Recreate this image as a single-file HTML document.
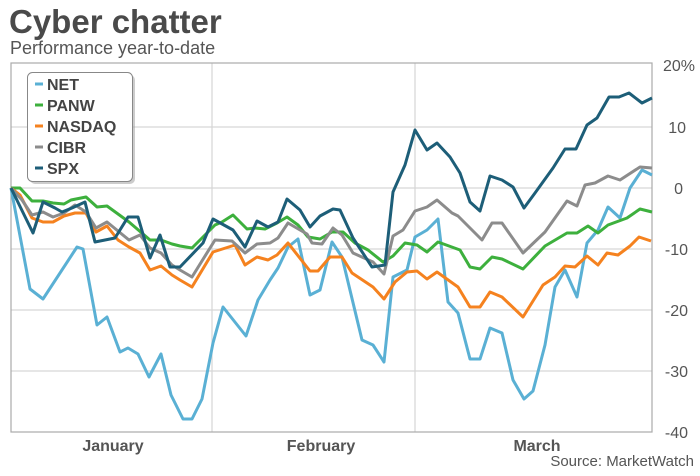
<!DOCTYPE html>
<html><head><style>
body{margin:0;width:700px;height:471px;background:#fff;overflow:hidden;font-family:"Liberation Sans",sans-serif;}
</style></head><body>
<svg width="700" height="471" viewBox="0 0 700 471" xmlns="http://www.w3.org/2000/svg" font-family="Liberation Sans, sans-serif">
<text x="9" y="33" font-size="33" font-weight="bold" fill="#4a4a4a">Cyber chatter</text>
<text x="10" y="54" font-size="18" fill="#555">Performance year-to-date</text>
<g stroke="#d6d6d6" stroke-width="1.2">
<line x1="11" y1="127" x2="652" y2="127"/><line x1="11" y1="188" x2="652" y2="188"/>
<line x1="11" y1="249" x2="652" y2="249"/><line x1="11" y1="310" x2="652" y2="310"/>
<line x1="11" y1="371" x2="652" y2="371"/>
<line x1="212" y1="63" x2="212" y2="432"/><line x1="415" y1="63" x2="415" y2="432"/>
</g>
<rect x="11" y="63" width="641" height="369" fill="none" stroke="#aaa" stroke-width="1.2"/>
<g font-size="16" fill="#555" text-anchor="end">
<text x="695" y="71">20%</text><text x="686" y="133">10</text><text x="683" y="194">0</text>
<text x="688" y="255">-10</text><text x="688" y="316">-20</text><text x="688" y="377">-30</text><text x="688" y="438">-40</text>
</g>
<g font-size="16" font-weight="bold" fill="#555" text-anchor="middle">
<text x="113" y="451">January</text><text x="321" y="451">February</text><text x="537" y="451">March</text>
</g>
<text x="694" y="466" font-size="15" fill="#555" text-anchor="end">Source: MarketWatch</text>
<g fill="none" stroke-width="3" stroke-linejoin="round">
<polyline stroke="#5ab0d4" points="11,188 30,289 43,299 77,247 83,249 97,325 107,317 120,352 128,348 138,354 149,377 161,354 171,395 183,419 192,419 202,399 213,343 223,307 246,336 258,300 270,280 278,268 288,247 298,239 310,295 320,290 332,242 342,257 362,340 373,345 384,362 393,277 407,270 415,237 427,230 438,219 448,302 458,313 470,359 480,359 490,328 502,333 513,380 524,399 533,391 545,345 555,287 565,270 577,297 587,243 598,230 608,207 620,218 630,188 642,170 652,175"/>
<polyline stroke="#3db03d" points="11,188 20,188 32,201 43,201 53,203 64,204 71,200 86,197 97,207 107,206 129,222 150,240 161,240 172,244 180,246 192,248 205,235 215,225 222,222 233,215 247,229 255,228 265,229 277,223 287,217 298,225 308,237 320,239 332,232 343,232 355,243 368,250 383,262 393,256 405,243 417,245 427,252 438,242 460,250 470,267 480,269 492,257 502,259 523,269 545,246 567,233 577,233 588,226 598,233 608,225 627,218 640,209 652,212"/>
<polyline stroke="#f5821f" points="11,188 20,195 32,218 43,222 53,222 64,216 75,213 86,213 96,232 107,226 118,240 129,247 140,253 150,270 161,266 172,275 180,280 192,287 213,252 235,245 245,265 257,257 268,260 277,255 288,243 310,271 318,271 330,257 342,257 352,273 373,287 384,299 395,282 407,272 417,271 427,279 437,272 458,287 470,307 480,307 490,292 502,297 523,317 543,285 555,277 565,266 575,267 587,256 598,265 607,253 618,255 630,246 639,237 651,241"/>
<polyline stroke="#8c8c8c" points="11,188 22,200 32,215 43,212 53,217 64,213 75,205 86,212 96,228 107,222 129,240 140,235 150,248 161,253 172,265 180,270 192,277 215,240 232,241 245,253 257,244 270,243 278,238 288,223 307,234 312,243 322,244 333,228 342,235 353,253 373,262 384,274 393,236 403,230 415,211 427,207 437,200 452,213 458,216 482,240 492,223 502,223 523,253 545,232 567,201 577,206 585,185 595,183 608,176 620,180 640,167 652,168"/>
<polyline stroke="#1d5e78" points="11,188 33,233 43,202 55,208 62,212 72,208 85,202 95,242 115,238 128,217 138,217 150,258 160,235 170,267 180,267 203,243 213,219 233,230 245,247 257,221 268,227 278,222 287,199 300,210 310,227 320,216 333,209 340,210 353,238 372,267 385,265 393,192 405,165 415,130 427,150 437,143 450,157 460,173 470,202 480,211 490,176 502,180 513,187 524,208 535,193 553,168 565,149 576,149 587,125 597,118 609,97 619,97 629,93 642,103 652,98"/>
</g>
<rect x="30" y="75" width="105" height="109" rx="5" fill="#999" opacity="0.5"/>
<rect x="27.5" y="72.5" width="105" height="109" rx="5" fill="#fff" stroke="#888" stroke-width="1"/>
<g stroke-width="3">
<line x1="35" y1="84" x2="43" y2="84" stroke="#5ab0d4"/>
<line x1="35" y1="105" x2="43" y2="105" stroke="#3db03d"/>
<line x1="35" y1="126" x2="43" y2="126" stroke="#f5821f"/>
<line x1="35" y1="147" x2="43" y2="147" stroke="#8c8c8c"/>
<line x1="35" y1="168" x2="43" y2="168" stroke="#1d5e78"/>
</g>
<g font-size="16" font-weight="bold" fill="#444">
<text x="47" y="90">NET</text><text x="47" y="111">PANW</text><text x="47" y="132">NASDAQ</text>
<text x="47" y="153">CIBR</text><text x="47" y="174">SPX</text>
</g>
</svg>
</body></html>
